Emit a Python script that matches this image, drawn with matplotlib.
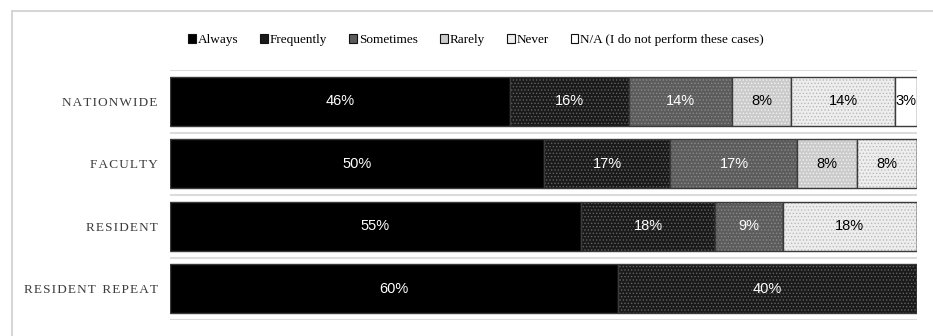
import numpy as np
import matplotlib.pyplot as plt
from matplotlib.patches import Rectangle

# Data
groups = ['NATIONWIDE', 'FACULTY', 'RESIDENT', 'RESIDENT REPEAT']
answers = ['Always', 'Frequently', 'Sometimes', 'Rarely', 'Never',
           'N/A (I do not perform these cases)']
always = [46, 50, 55, 60]
frequently = [16, 17, 18, 40]
sometimes = [14, 17, 9, 0]
rarely = [8, 8, 0, 0]
never = [14, 8, 18, 0]
not_applicable = [3, 0, 0, 0]

series = [always, frequently, sometimes, rarely, never, not_applicable]

# Styles: face colour, hatch dot colour, label colour
faces = ['#000000', '#1a1a1a', '#5c5c5c', '#cbcbcb', '#eeeeee', '#ffffff']
dots = [None, '#626262', '#8a8a8a', '#f2f2f2', '#b8b8b8', None]
text_col = ['white', 'white', 'white', 'black', 'black', 'black']

plt.rcParams['hatch.linewidth'] = 0.6

fig = plt.figure(figsize=(9.33, 3.36), dpi=100)
# light frame round the chart area
fig.patches.append(Rectangle((12 / 933, -0.1), 1.0, 1 - 11 / 336 + 0.1,
                             transform=fig.transFigure, fill=False,
                             edgecolor='#d6d6d6', linewidth=1.5))

ax = fig.add_axes([170 / 933, 1 - 320 / 336, 747 / 933, 250 / 336])

vals = np.array(series, dtype=float)
totals = vals.sum(axis=0)
pct = vals / totals * 100
ypos = np.arange(len(groups))
height = 0.79

left = np.zeros(len(groups))
handles = []
for i, name in enumerate(answers):
    w = pct[i]
    ax.barh(ypos, w, height=height, left=left, color=faces[i],
            edgecolor=dots[i] if dots[i] else faces[i],
            hatch='.....' if dots[i] else None, linewidth=0)
    ax.barh(ypos, w, height=height, left=left, fill=False,
            edgecolor='#3a3a3a', linewidth=1.0)
    handles.append(Rectangle((0, 0), 1, 1, facecolor=faces[i],
                             edgecolor='#111111', linewidth=0.8))
    for j in range(len(groups)):
        if vals[i][j] > 0:
            ax.text(left[j] + w[j] / 2, ypos[j], f'{int(vals[i][j])}%',
                    ha='center', va='center', color=text_col[i],
                    fontsize=10.5, family='Liberation Sans')
    left += w

for y in np.arange(-0.5, len(groups), 1.0):
    ax.axhline(y, color='#dcdcdc', linewidth=1.5, zorder=0)

ax.set_xlim(0, 100)
ax.set_ylim(len(groups) - 0.5, -0.5)
for s in ax.spines.values():
    s.set_visible(False)
ax.set_xticks([])
ax.set_yticks(ypos)
ax.set_yticklabels(['\u2002'.join('\u200a'.join(w) for w in g.split()) for g in groups],
                   family='Liberation Serif', fontsize=9.5, color='#3c3c3c')
ax.tick_params(axis='y', length=0, pad=9)

fig.legend(handles, answers, loc='center', bbox_to_anchor=(476 / 933, 1 - 40 / 336),
           ncol=6, frameon=False, prop={'family': 'Liberation Serif', 'size': 9.5},
           handlelength=0.6, handleheight=0.6, handletextpad=0.15, columnspacing=1.65)

fig.savefig('out.png', dpi=100)
